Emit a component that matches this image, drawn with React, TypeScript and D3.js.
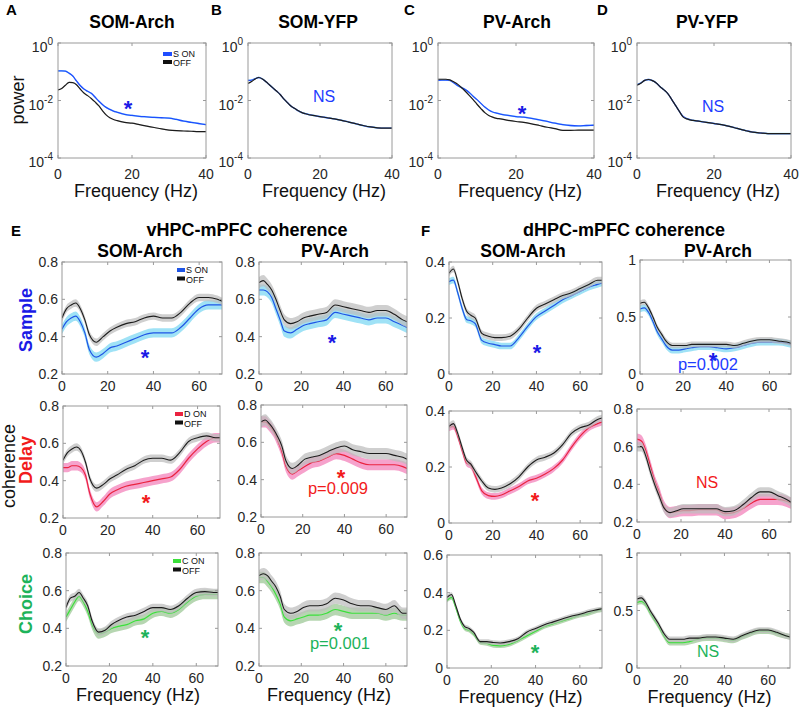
import React from "react";
import * as d3 from "d3";

const FONT = "'Liberation Sans', Arial, Helvetica, sans-serif";

// ---------------- Power spectra (A–D), values are log10(power) ----------------
const powHz = [0, 1, 2, 3, 4, 5, 6, 7, 8, 9, 10, 11, 12, 13, 14, 15, 16, 18, 20, 22, 24, 26, 28, 30, 32, 34, 36, 38, 40];
const somArchOn = [-0.97, -0.97, -0.98, -1.05, -1.15, -1.32, -1.48, -1.6, -1.68, -1.75, -1.88, -2.02, -2.14, -2.24, -2.31, -2.37, -2.41, -2.48, -2.52, -2.55, -2.57, -2.59, -2.6, -2.61, -2.66, -2.72, -2.76, -2.8, -2.84];
const somArchOff = [-1.63, -1.58, -1.47, -1.37, -1.38, -1.45, -1.6, -1.74, -1.83, -1.93, -2.05, -2.18, -2.35, -2.5, -2.6, -2.66, -2.7, -2.76, -2.79, -2.84, -2.89, -2.94, -2.99, -3.03, -3.05, -3.06, -3.07, -3.08, -3.08];
const somYfpOn = [-1.3, -1.29, -1.24, -1.2, -1.25, -1.35, -1.46, -1.57, -1.68, -1.8, -1.95, -2.08, -2.2, -2.28, -2.36, -2.42, -2.46, -2.52, -2.56, -2.6, -2.64, -2.69, -2.75, -2.81, -2.87, -2.92, -2.95, -2.96, -2.96];
const somYfpOff = [-1.41, -1.34, -1.25, -1.2, -1.25, -1.35, -1.46, -1.57, -1.68, -1.8, -1.95, -2.08, -2.2, -2.28, -2.36, -2.42, -2.46, -2.52, -2.56, -2.6, -2.64, -2.69, -2.75, -2.81, -2.87, -2.92, -2.95, -2.96, -2.96];
const pvArchOn = [-1.3, -1.29, -1.29, -1.3, -1.38, -1.48, -1.55, -1.62, -1.72, -1.85, -1.97, -2.1, -2.23, -2.33, -2.4, -2.44, -2.47, -2.52, -2.56, -2.58, -2.62, -2.67, -2.73, -2.79, -2.84, -2.87, -2.88, -2.87, -2.86];
const pvArchOff = [-1.26, -1.26, -1.26, -1.28, -1.35, -1.43, -1.55, -1.68, -1.82, -1.97, -2.13, -2.28, -2.42, -2.52, -2.58, -2.62, -2.64, -2.69, -2.73, -2.76, -2.81, -2.87, -2.93, -2.98, -3.04, -3.04, -3.03, -3.03, -3.03];
const pvYfpOn = [-1.45, -1.39, -1.3, -1.27, -1.31, -1.39, -1.52, -1.63, -1.76, -1.96, -2.17, -2.38, -2.56, -2.63, -2.67, -2.7, -2.72, -2.76, -2.8, -2.84, -2.9, -2.97, -3.04, -3.1, -3.13, -3.15, -3.15, -3.15, -3.15];
const pvYfpOff = [-1.47, -1.4, -1.3, -1.27, -1.31, -1.39, -1.52, -1.63, -1.76, -1.96, -2.17, -2.38, -2.58, -2.64, -2.68, -2.7, -2.72, -2.76, -2.8, -2.84, -2.9, -2.97, -3.04, -3.1, -3.13, -3.15, -3.15, -3.15, -3.15];
const powXTicks = [0, 20, 40];
const powYExp = [0, -2, -4];

// ---------------- Coherence (E, F) ----------------
const cohHz = [0, 2, 4, 6, 8, 10, 12, 15, 18, 21, 24, 28, 32, 36, 40, 44, 48, 52, 56, 60, 64, 68, 70];
const cohXTicks = [0, 20, 40, 60];

const vSomSampleOff = [0.50, 0.55, 0.57, 0.58, 0.55, 0.49, 0.41, 0.37, 0.40, 0.43, 0.45, 0.47, 0.48, 0.50, 0.51, 0.50, 0.50, 0.53, 0.58, 0.61, 0.61, 0.60, 0.59];
const vSomSampleOn = [0.44, 0.48, 0.50, 0.51, 0.48, 0.42, 0.33, 0.29, 0.31, 0.34, 0.35, 0.37, 0.39, 0.41, 0.42, 0.42, 0.42, 0.45, 0.50, 0.55, 0.57, 0.57, 0.57];
const vPvSampleOff = [0.69, 0.70, 0.68, 0.65, 0.60, 0.54, 0.49, 0.47, 0.48, 0.50, 0.51, 0.52, 0.53, 0.57, 0.56, 0.55, 0.54, 0.53, 0.54, 0.54, 0.52, 0.49, 0.48];
const vPvSampleOn = [0.65, 0.65, 0.64, 0.61, 0.55, 0.49, 0.43, 0.42, 0.44, 0.46, 0.47, 0.48, 0.49, 0.53, 0.52, 0.51, 0.50, 0.49, 0.50, 0.50, 0.48, 0.46, 0.45];
const vSomDelayOff = [0.51, 0.55, 0.57, 0.58, 0.56, 0.50, 0.41, 0.36, 0.38, 0.41, 0.43, 0.46, 0.48, 0.51, 0.52, 0.52, 0.51, 0.55, 0.61, 0.63, 0.64, 0.63, 0.63];
const vSomDelayOn = [0.47, 0.47, 0.48, 0.48, 0.47, 0.43, 0.33, 0.26, 0.29, 0.33, 0.35, 0.37, 0.38, 0.39, 0.40, 0.41, 0.42, 0.46, 0.52, 0.57, 0.61, 0.63, 0.63];
const vPvDelayOff = [0.71, 0.72, 0.70, 0.67, 0.63, 0.58, 0.50, 0.46, 0.48, 0.51, 0.52, 0.53, 0.55, 0.57, 0.58, 0.56, 0.55, 0.54, 0.54, 0.54, 0.53, 0.52, 0.51];
const vPvDelayOn = [0.71, 0.71, 0.69, 0.66, 0.61, 0.55, 0.47, 0.43, 0.45, 0.47, 0.49, 0.50, 0.52, 0.54, 0.53, 0.51, 0.49, 0.48, 0.48, 0.48, 0.48, 0.47, 0.46];
const vSomChoiceOff = [0.51, 0.56, 0.57, 0.59, 0.56, 0.52, 0.44, 0.38, 0.39, 0.42, 0.44, 0.46, 0.47, 0.49, 0.51, 0.51, 0.50, 0.52, 0.56, 0.59, 0.595, 0.59, 0.59];
const vSomChoiceOn = [0.46, 0.50, 0.54, 0.57, 0.54, 0.49, 0.42, 0.37, 0.38, 0.40, 0.41, 0.42, 0.44, 0.45, 0.48, 0.49, 0.48, 0.50, 0.54, 0.57, 0.58, 0.58, 0.58];
const vPvChoiceOff = [0.68, 0.69, 0.68, 0.65, 0.62, 0.57, 0.50, 0.48, 0.49, 0.51, 0.52, 0.52, 0.53, 0.56, 0.55, 0.53, 0.52, 0.52, 0.51, 0.50, 0.52, 0.48, 0.48];
const vPvChoiceOn = [0.67, 0.67, 0.65, 0.62, 0.58, 0.53, 0.46, 0.44, 0.45, 0.46, 0.47, 0.47, 0.48, 0.50, 0.49, 0.48, 0.48, 0.48, 0.48, 0.47, 0.48, 0.47, 0.47];

const dSomSampleOff = [0.36, 0.375, 0.33, 0.27, 0.225, 0.21, 0.20, 0.145, 0.135, 0.13, 0.13, 0.135, 0.16, 0.20, 0.235, 0.25, 0.265, 0.28, 0.29, 0.305, 0.32, 0.335, 0.335];
const dSomSampleOn = [0.33, 0.335, 0.29, 0.235, 0.195, 0.19, 0.18, 0.12, 0.11, 0.105, 0.10, 0.10, 0.13, 0.17, 0.205, 0.225, 0.245, 0.265, 0.28, 0.295, 0.31, 0.32, 0.325];
const dPvSampleOff = [0.62, 0.63, 0.58, 0.50, 0.41, 0.35, 0.29, 0.25, 0.25, 0.25, 0.26, 0.26, 0.26, 0.26, 0.26, 0.25, 0.27, 0.29, 0.30, 0.30, 0.29, 0.28, 0.27];
const dPvSampleOn = [0.57, 0.58, 0.54, 0.46, 0.37, 0.31, 0.25, 0.21, 0.21, 0.22, 0.23, 0.24, 0.24, 0.23, 0.22, 0.23, 0.25, 0.27, 0.28, 0.28, 0.28, 0.27, 0.26];
const dSomDelayOff = [0.345, 0.355, 0.32, 0.27, 0.225, 0.21, 0.185, 0.15, 0.125, 0.12, 0.125, 0.14, 0.165, 0.20, 0.225, 0.235, 0.25, 0.28, 0.32, 0.34, 0.35, 0.37, 0.375];
const dSomDelayOn = [0.34, 0.345, 0.31, 0.26, 0.215, 0.205, 0.17, 0.115, 0.098, 0.095, 0.10, 0.115, 0.13, 0.15, 0.16, 0.175, 0.195, 0.225, 0.27, 0.31, 0.34, 0.355, 0.36];
const dPvDelayOff = [0.60, 0.60, 0.55, 0.47, 0.40, 0.34, 0.28, 0.25, 0.26, 0.27, 0.27, 0.27, 0.27, 0.27, 0.255, 0.26, 0.29, 0.33, 0.36, 0.36, 0.34, 0.32, 0.305];
const dPvDelayOn = [0.64, 0.63, 0.58, 0.50, 0.42, 0.36, 0.29, 0.25, 0.255, 0.26, 0.26, 0.265, 0.265, 0.265, 0.245, 0.25, 0.27, 0.30, 0.32, 0.32, 0.32, 0.31, 0.30];
const dSomChoiceOff = [0.375, 0.39, 0.33, 0.26, 0.22, 0.21, 0.19, 0.14, 0.14, 0.135, 0.133, 0.14, 0.155, 0.19, 0.21, 0.23, 0.245, 0.26, 0.275, 0.285, 0.30, 0.31, 0.315];
const dSomChoiceOn = [0.36, 0.375, 0.32, 0.25, 0.21, 0.20, 0.18, 0.135, 0.13, 0.12, 0.118, 0.125, 0.145, 0.17, 0.195, 0.22, 0.235, 0.25, 0.265, 0.28, 0.29, 0.305, 0.31];
const dPvChoiceOff = [0.60, 0.61, 0.57, 0.50, 0.44, 0.38, 0.31, 0.25, 0.25, 0.25, 0.26, 0.26, 0.27, 0.27, 0.26, 0.25, 0.28, 0.31, 0.33, 0.33, 0.31, 0.28, 0.27];
const dPvChoiceOn = [0.57, 0.58, 0.55, 0.48, 0.42, 0.36, 0.29, 0.22, 0.22, 0.22, 0.23, 0.25, 0.26, 0.26, 0.25, 0.24, 0.27, 0.30, 0.32, 0.32, 0.30, 0.28, 0.27];

// SEM half-widths (panel order: vSOM, vPV, dSOM, dPV per row: Sample, Delay, Choice)
const cohSemOn = [0.025, 0.03, 0.012, 0.03, 0.025, 0.03, 0.012, 0.03, 0.025, 0.03, 0.012, 0.025];
const cohSemOff = [0.02, 0.03, 0.012, 0.025, 0.02, 0.03, 0.012, 0.025, 0.02, 0.03, 0.012, 0.025];

const yTicks28 = [0.2, 0.4, 0.6, 0.8];
const yTicks04 = [0, 0.2, 0.4];
const yTicks06 = [0, 0.2, 0.4, 0.6];
const yTicks01 = [0, 0.5, 1];

// ---------------- Styles ----------------
const BOX = "#9a9a9a";
const TICKTXT = "#262626";
const COND = {
  S: { line: "#1f55e6", shade: "#9fe2f6", text: "#1a1ae6", label: "S ON" },
  D: { line: "#ea2340", shade: "#f6a2cc", text: "#f21b1b", label: "D ON" },
  C: { line: "#3be03b", shade: "#b6d6b1", text: "#1db35a", label: "C ON" },
};
const OFF_SHADE = "#bdbdbd";

type Box = { x0: number; x1: number; y0: number; y1: number };

function Frame({ b, xs, ys, xTicks, yTicks, yLabel }: any) {
  const t = 3;
  return (
    <g>
      <rect x={b.x0} y={b.y0} width={b.x1 - b.x0} height={b.y1 - b.y0} fill="none" stroke={BOX} strokeWidth={1} />
      {xTicks.map((v: number) => (
        <g key={"x" + v}>
          <line x1={xs(v)} x2={xs(v)} y1={b.y1} y2={b.y1 - t} stroke={BOX} />
          <line x1={xs(v)} x2={xs(v)} y1={b.y0} y2={b.y0 + t} stroke={BOX} />
        </g>
      ))}
      {yTicks.map((v: number) => (
        <g key={"y" + v}>
          <line x1={b.x0} x2={b.x0 + t} y1={ys(v)} y2={ys(v)} stroke={BOX} />
          <line x1={b.x1} x2={b.x1 - t} y1={ys(v)} y2={ys(v)} stroke={BOX} />
        </g>
      ))}
      {yLabel}
    </g>
  );
}

function CohPanel({ id, b, on, off, semOn, semOff, yDomain, yTicks, cond, legend, xTitle }: any) {
  const xs = d3.scaleLinear().domain([0, 70]).range([b.x0, b.x1]);
  const ys = d3.scaleLinear().domain(yDomain).range([b.y1, b.y0]);
  const idx = d3.range(cohHz.length);
  const curve = d3.curveMonotoneX;
  const line = (arr: number[]) =>
    d3.line<number>().x((i) => xs(cohHz[i])).y((i) => ys(arr[i])).curve(curve)(idx) as string;
  const area = (arr: number[], s: number) =>
    d3.area<number>().x((i) => xs(cohHz[i])).y0((i) => ys(arr[i] - s)).y1((i) => ys(arr[i] + s)).curve(curve)(idx) as string;
  const c = (COND as any)[cond];
  const fmt = d3.format("~g");
  return (
    <g>
      <defs>
        <clipPath id={"clip" + id}>
          <rect x={b.x0} y={b.y0} width={b.x1 - b.x0} height={b.y1 - b.y0} />
        </clipPath>
      </defs>
      <g clipPath={`url(#clip${id})`}>
        <path d={area(on, semOn)} fill={c.shade} stroke="none" />
        <path d={line(on)} fill="none" stroke={c.line} strokeWidth={1.2} />
        <path d={area(off, semOff)} fill={OFF_SHADE} fillOpacity={0.72} stroke="none" />
        <path d={line(off)} fill="none" stroke="#1c1c1c" strokeWidth={1.1} />
      </g>
      <Frame b={b} xs={xs} ys={ys} xTicks={cohXTicks} yTicks={yTicks} />
      {yTicks.map((v: number) => (
        <text key={v} x={b.x0 - 4} y={ys(v) + 5} textAnchor="end" fontSize={14} fill={TICKTXT}>
          {fmt(v)}
        </text>
      ))}
      {cohXTicks.map((v: number) => (
        <text key={v} x={xs(v)} y={b.y1 + 17} textAnchor="middle" fontSize={14} fill={TICKTXT}>
          {v}
        </text>
      ))}
      {legend && (
        <g fontSize={9} fill="#111">
          <rect x={b.x1 - 45} y={b.y0 + 6} width={8} height={4} fill={c.line} />
          <text x={b.x1 - 36} y={b.y0 + 11}>{c.label}</text>
          <rect x={b.x1 - 45} y={b.y0 + 14.5} width={8} height={4} fill="#111" />
          <text x={b.x1 - 36} y={b.y0 + 21}>OFF</text>
        </g>
      )}
      {xTitle && (
        <text x={(b.x0 + b.x1) / 2 - 4} y={b.y1 + 35} textAnchor="middle" fontSize={18} fill="#111">
          Frequency (Hz)
        </text>
      )}
    </g>
  );
}

function PowPanel({ id, b, on, off, legend }: any) {
  const xs = d3.scaleLinear().domain([0, 40]).range([b.x0, b.x1]);
  const ys = d3.scaleLog().domain([1e-4, 1]).range([b.y1, b.y0]);
  const idx = d3.range(powHz.length);
  const curve = d3.curveMonotoneX;
  const line = (arr: number[]) =>
    d3.line<number>().x((i) => xs(powHz[i])).y((i) => ys(Math.pow(10, arr[i]))).curve(curve)(idx) as string;
  const area = (arr: number[], s: number) =>
    d3.area<number>().x((i) => xs(powHz[i])).y0((i) => ys(Math.pow(10, arr[i] - s))).y1((i) => ys(Math.pow(10, arr[i] + s))).curve(curve)(idx) as string;
  return (
    <g>
      <defs>
        <clipPath id={"pclip" + id}>
          <rect x={b.x0} y={b.y0} width={b.x1 - b.x0} height={b.y1 - b.y0} />
        </clipPath>
      </defs>
      <g clipPath={`url(#pclip${id})`}>
        <path d={area(on, 0.03)} fill="#a6e6f7" />
        <path d={line(on)} fill="none" stroke="#1f4dff" strokeWidth={1.3} />
        <path d={area(off, 0.02)} fill={OFF_SHADE} fillOpacity={0.6} />
        <path d={line(off)} fill="none" stroke="#1c1c1c" strokeWidth={1.2} />
      </g>
      <Frame b={b} xs={xs} ys={(v: number) => ys(Math.pow(10, v))} xTicks={powXTicks} yTicks={powYExp} />
      {powYExp.map((e) => (
        <text key={e} x={b.x0 - 5} y={ys(Math.pow(10, e)) + 9} textAnchor="end" fontSize={14} fill={TICKTXT}>
          10<tspan dy={-7} fontSize={10}>{String(e)}</tspan>
        </text>
      ))}
      {powXTicks.map((v) => (
        <text key={v} x={xs(v)} y={b.y1 + 21} textAnchor="middle" fontSize={14} fill={TICKTXT}>
          {v}
        </text>
      ))}
      <text x={(b.x0 + b.x1) / 2 + 4} y={b.y1 + 39} textAnchor="middle" fontSize={18} fill="#111">
        Frequency (Hz)
      </text>
      {legend && (
        <g fontSize={9} fill="#111">
          <rect x={b.x1 - 43} y={b.y0 + 9} width={9} height={4} fill="#1f4dff" />
          <text x={b.x1 - 33} y={b.y0 + 14}>S ON</text>
          <rect x={b.x1 - 43} y={b.y0 + 17} width={9} height={4} fill="#111" />
          <text x={b.x1 - 33} y={b.y0 + 23}>OFF</text>
        </g>
      )}
    </g>
  );
}

const powPanels = [
  { id: "A", b: { x0: 58, x1: 206, y0: 43, y1: 158 }, on: somArchOn, off: somArchOff, legend: true },
  { id: "B", b: { x0: 248, x1: 392, y0: 43, y1: 158 }, on: somYfpOn, off: somYfpOff },
  { id: "C", b: { x0: 438, x1: 594, y0: 43, y1: 158 }, on: pvArchOn, off: pvArchOff },
  { id: "D", b: { x0: 637, x1: 791, y0: 43, y1: 158 }, on: pvYfpOn, off: pvYfpOff },
];

const cohPanels = [
  { b: { x0: 62, x1: 222, y0: 262, y1: 374 }, on: vSomSampleOn, off: vSomSampleOff, yDomain: [0.2, 0.8], yTicks: yTicks28, cond: "S", legend: true },
  { b: { x0: 259, x1: 407, y0: 262, y1: 374 }, on: vPvSampleOn, off: vPvSampleOff, yDomain: [0.2, 0.8], yTicks: yTicks28, cond: "S" },
  { b: { x0: 449, x1: 602, y0: 262, y1: 374 }, on: dSomSampleOn, off: dSomSampleOff, yDomain: [0, 0.4], yTicks: yTicks04, cond: "S" },
  { b: { x0: 640, x1: 791, y0: 260, y1: 374 }, on: dPvSampleOn, off: dPvSampleOff, yDomain: [0, 1], yTicks: yTicks01, cond: "S" },
  { b: { x0: 63, x1: 220, y0: 406, y1: 518 }, on: vSomDelayOn, off: vSomDelayOff, yDomain: [0.2, 0.8], yTicks: yTicks28, cond: "D", legend: true },
  { b: { x0: 261, x1: 407, y0: 405, y1: 517 }, on: vPvDelayOn, off: vPvDelayOff, yDomain: [0.2, 0.8], yTicks: yTicks28, cond: "D" },
  { b: { x0: 449, x1: 602, y0: 411, y1: 523 }, on: dSomDelayOn, off: dSomDelayOff, yDomain: [0, 0.4], yTicks: yTicks04, cond: "D" },
  { b: { x0: 637, x1: 791, y0: 409, y1: 522 }, on: dPvDelayOn, off: dPvDelayOff, yDomain: [0.2, 0.8], yTicks: yTicks28, cond: "D" },
  { b: { x0: 66, x1: 218, y0: 553, y1: 666 }, on: vSomChoiceOn, off: vSomChoiceOff, yDomain: [0.2, 0.8], yTicks: yTicks28, cond: "C", legend: true, xTitle: true },
  { b: { x0: 259, x1: 407, y0: 553, y1: 666 }, on: vPvChoiceOn, off: vPvChoiceOff, yDomain: [0.2, 0.8], yTicks: yTicks28, cond: "C", xTitle: true },
  { b: { x0: 447, x1: 602, y0: 555, y1: 668 }, on: dSomChoiceOn, off: dSomChoiceOff, yDomain: [0, 0.6], yTicks: yTicks06, cond: "C", xTitle: true },
  { b: { x0: 637, x1: 790, y0: 553, y1: 668 }, on: dPvChoiceOn, off: dPvChoiceOff, yDomain: [0, 1], yTicks: yTicks01, cond: "C", xTitle: true },
];

const stars = [
  { x: 128, y: 103, c: "#1a1ae6" },
  { x: 522, y: 108, c: "#1a1ae6" },
  { x: 145, y: 352, c: "#1a1ae6" },
  { x: 332, y: 337, c: "#1a1ae6" },
  { x: 537, y: 347, c: "#1a1ae6" },
  { x: 713, y: 355, c: "#1a1ae6" },
  { x: 146, y: 497, c: "#f21b1b" },
  { x: 341, y: 472, c: "#f21b1b" },
  { x: 535, y: 495, c: "#f21b1b" },
  { x: 145, y: 632, c: "#1db35a" },
  { x: 338, y: 625, c: "#1db35a" },
  { x: 535, y: 647, c: "#1db35a" },
];

const notes = [
  { t: "NS", x: 324, y: 102, c: "#1e3cff", s: 16 },
  { t: "NS", x: 713, y: 112, c: "#1e3cff", s: 16 },
  { t: "p=0.002", x: 708, y: 370, c: "#1e3cff", s: 16.5 },
  { t: "p=0.009", x: 338, y: 494, c: "#f21b1b", s: 16.5 },
  { t: "NS", x: 707, y: 488, c: "#f21b1b", s: 16 },
  { t: "p=0.001", x: 340, y: 649, c: "#1db35a", s: 16.5 },
  { t: "NS", x: 708, y: 657, c: "#1db35a", s: 16 },
];

export default function App() {
  return (
    <svg
      width={800}
      height={712}
      viewBox="0 0 800 712"
      style={{ position: "absolute", left: 0, top: 0, display: "block" }}
      fontFamily={FONT}
    >
      <rect width={800} height={712} fill="#fff" />
      {powPanels.map((p) => (
        <PowPanel key={p.id} {...p} />
      ))}
      {cohPanels.map((p, i) => (
        <CohPanel key={i} id={i} semOn={cohSemOn[i]} semOff={cohSemOff[i]} {...p} />
      ))}

      {/* panel letters */}
      <g fontWeight="bold" fontSize={15} fill="#000">
        <text x={6} y={15}>A</text>
        <text x={211} y={15}>B</text>
        <text x={404} y={15}>C</text>
        <text x={597} y={15}>D</text>
        <text x={11} y={236}>E</text>
        <text x={421} y={236}>F</text>
      </g>

      {/* titles */}
      <g fontWeight="bold" fontSize={17.5} fill="#000" textAnchor="middle">
        <text x={132} y={28}>SOM-Arch</text>
        <text x={318} y={28}>SOM-YFP</text>
        <text x={517} y={28}>PV-Arch</text>
        <text x={707} y={28}>PV-YFP</text>
        <text x={247} y={236} fontSize={18}>vHPC-mPFC coherence</text>
        <text x={624} y={236} fontSize={18}>dHPC-mPFC coherence</text>
        <text x={140} y={257}>SOM-Arch</text>
        <text x={335} y={257}>PV-Arch</text>
        <text x={523} y={257}>SOM-Arch</text>
        <text x={718} y={257}>PV-Arch</text>
      </g>

      {/* y labels */}
      <text transform="translate(24,100) rotate(-90)" textAnchor="middle" fontSize={18} fill="#111">power</text>
      <text transform="translate(32,320) rotate(-90)" textAnchor="middle" fontSize={18} fontWeight="bold" fill={COND.S.text}>Sample</text>
      <text transform="translate(32,460) rotate(-90)" textAnchor="middle" fontSize={18} fontWeight="bold" fill={COND.D.text}>Delay</text>
      <text transform="translate(15,466) rotate(-90)" textAnchor="middle" fontSize={18} fill="#111">coherence</text>
      <text transform="translate(32,604) rotate(-90)" textAnchor="middle" fontSize={18} fontWeight="bold" fill={COND.C.text}>Choice</text>

      {/* significance stars */}
      {stars.map((s, i) => (
        <text key={i} x={s.x} y={s.y + 12.5} textAnchor="middle" fontSize={22} fontWeight="bold" fill={s.c}>*</text>
      ))}
      {notes.map((n, i) => (
        <text key={i} x={n.x} y={n.y} textAnchor="middle" fontSize={n.s} fill={n.c}>{n.t}</text>
      ))}
    </svg>
  );
}
